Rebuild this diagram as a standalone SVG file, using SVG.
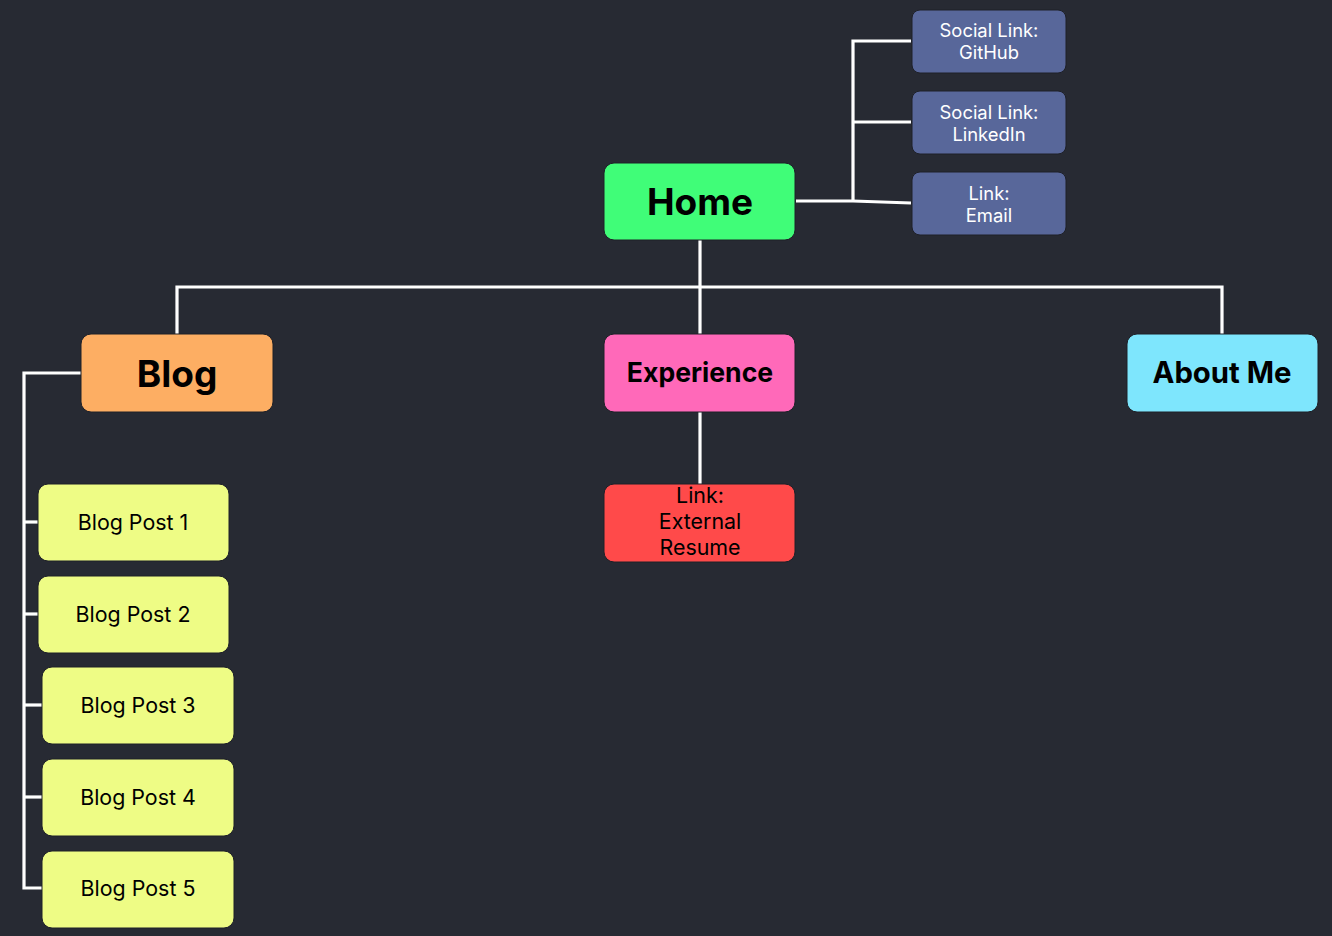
<svg xmlns="http://www.w3.org/2000/svg" width="1332" height="936" viewBox="0 0 1332 936">
  <style>
    .box { stroke: #1e2028; stroke-width: 1; }
    .wire { fill: none; stroke: #ffffff; stroke-width: 3.2; stroke-linejoin: miter; }
    text { font-family: Inter, "Liberation Sans", sans-serif; text-anchor: middle; }
    .big { font-weight: 700; fill: #000; }
    .post { font-size: 21.4px; fill: #000; }
    .social { font-size: 18.4px; fill: #ffffff; }
  </style>
  <rect width="1332" height="936" fill="#272a33"/>

  <g id="connectors">
    <!-- Home to links -->
    <path class="wire" d="M796 201 L853 201 L911 203"/>
    <path class="wire" d="M911 41 L853 41 L853 201"/>
    <path class="wire" d="M853 122 L911 122"/>
    <!-- Home to sections -->
    <path class="wire" d="M700 240 L700 287"/>
    <path class="wire" d="M177 334 L177 287 L1222 287 L1222 334"/>
    <path class="wire" d="M700 287 L700 334"/>
    <!-- Experience to resume -->
    <path class="wire" d="M700 412 L700 484"/>
    <!-- Blog to posts -->
    <path class="wire" d="M81 373 L24 373 L24 888 L42 888"/>
    <path class="wire" d="M24 522 L38 522"/>
    <path class="wire" d="M24 614 L38 614"/>
    <path class="wire" d="M24 705 L42 705"/>
    <path class="wire" d="M24 797 L42 797"/>
  </g>

  <g id="home">
    <rect class="box" x="604" y="163" width="191" height="77" rx="10" fill="#40fd78"/>
    <text class="big" x="700" y="215" font-size="37">Home</text>
  </g>

  <g id="social-github">
    <rect class="box" x="912" y="10" width="154" height="63" rx="8" fill="#58679a"/>
    <text class="social" x="989" y="37">Social Link:</text>
    <text class="social" x="989" y="59">GitHub</text>
  </g>
  <g id="social-linkedin">
    <rect class="box" x="912" y="91" width="154" height="63" rx="8" fill="#58679a"/>
    <text class="social" x="989" y="119">Social Link:</text>
    <text class="social" x="989" y="141">LinkedIn</text>
  </g>
  <g id="link-email">
    <rect class="box" x="912" y="172" width="154" height="63" rx="8" fill="#58679a"/>
    <text class="social" x="989" y="200">Link:</text>
    <text class="social" x="989" y="222">Email</text>
  </g>

  <g id="blog">
    <rect class="box" x="81" y="334" width="192" height="78" rx="10" fill="#fdae63"/>
    <text class="big" x="177" y="387" font-size="37">Blog</text>
  </g>
  <g id="experience">
    <rect class="box" x="604" y="334" width="191" height="78" rx="10" fill="#ff69b9"/>
    <text class="big" x="700" y="382" font-size="26.6">Experience</text>
  </g>
  <g id="about-me">
    <rect class="box" x="1127" y="334" width="191" height="78" rx="10" fill="#7ee6fd"/>
    <text class="big" x="1222" y="383" font-size="29.3">About Me</text>
  </g>

  <g id="external-resume">
    <rect class="box" x="604" y="484" width="191" height="78" rx="10" fill="#ff4a4a"/>
    <text class="post" x="700" y="503">Link:</text>
    <text class="post" x="700" y="529">External</text>
    <text class="post" x="700" y="555">Resume</text>
  </g>

  <g id="blog-post-1">
    <rect class="box" x="38" y="484" width="191" height="77" rx="10" fill="#eefc85"/>
    <text class="post" x="133" y="530">Blog Post 1</text>
  </g>
  <g id="blog-post-2">
    <rect class="box" x="38" y="576" width="191" height="77" rx="10" fill="#eefc85"/>
    <text class="post" x="133" y="622">Blog Post 2</text>
  </g>
  <g id="blog-post-3">
    <rect class="box" x="42" y="667" width="192" height="77" rx="10" fill="#eefc85"/>
    <text class="post" x="138" y="713">Blog Post 3</text>
  </g>
  <g id="blog-post-4">
    <rect class="box" x="42" y="759" width="192" height="77" rx="10" fill="#eefc85"/>
    <text class="post" x="138" y="805">Blog Post 4</text>
  </g>
  <g id="blog-post-5">
    <rect class="box" x="42" y="851" width="192" height="77" rx="10" fill="#eefc85"/>
    <text class="post" x="138" y="896">Blog Post 5</text>
  </g>
</svg>
